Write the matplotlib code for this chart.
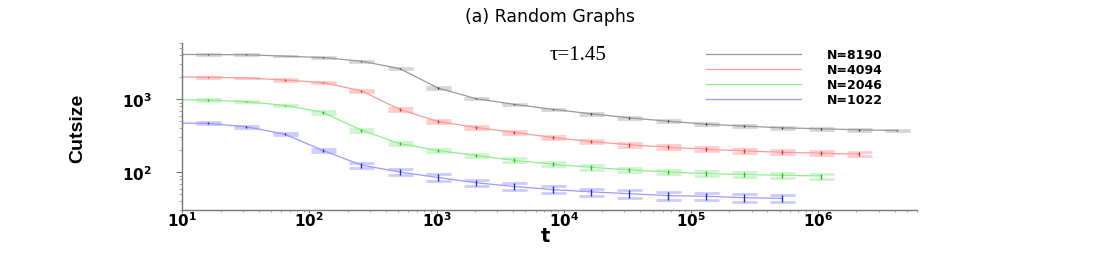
import matplotlib
matplotlib.use("Agg")
import matplotlib.pyplot as plt
import numpy as np
from matplotlib.ticker import LogLocator, FuncFormatter, NullFormatter

# time steps (powers of two), t=8 lies left of the axis and is clipped
t_all = [8, 16, 32, 64, 128, 256, 512, 1024, 2048, 4096, 8192, 16384, 32768,
         65536, 131072, 262144, 524288, 1048576, 2097152, 4194304]

cut_8190 = [4120, 4100, 4080, 3900, 3730, 3330, 2640, 1430, 1020, 853, 729, 634,
            558, 502, 457, 430, 407, 395, 382, 374]
cut_4094 = [2030, 2010, 1960, 1840, 1690, 1310, 728, 498, 412, 352, 300, 264,
            238, 221, 207, 196, 188, 183, 177]
cut_2046 = [985, 978, 927, 827, 662, 378, 248, 199, 170, 146, 129, 117,
            108, 101, 96, 93, 91, 89]
cut_1022 = [475, 468, 420, 333, 199, 126, 101, 85, 72, 64, 58, 54,
            51, 48, 47, 45, 44]

# relative error bars
err_8190 = [0.01, 0.01, 0.01, 0.01, 0.01, 0.015, 0.02, 0.02, 0.02, 0.02, 0.02,
            0.025, 0.025, 0.03, 0.03, 0.03, 0.03, 0.03, 0.03, 0.03]
err_4094 = [0.015, 0.015, 0.015, 0.02, 0.025, 0.03, 0.04, 0.04, 0.04, 0.045,
            0.05, 0.05, 0.055, 0.06, 0.06, 0.06, 0.06, 0.06, 0.06]
err_2046 = [0.02, 0.02, 0.02, 0.025, 0.04, 0.05, 0.05, 0.05, 0.06, 0.06, 0.065,
            0.07, 0.07, 0.075, 0.08, 0.08, 0.08, 0.08]
err_1022 = [0.03, 0.03, 0.035, 0.04, 0.06, 0.08, 0.09, 0.1, 0.1, 0.11, 0.11,
            0.11, 0.12, 0.12, 0.12, 0.12, 0.12]

labels = ["N=8190", "N=4094", "N=2046", "N=1022"]
series = [cut_8190, cut_4094, cut_2046, cut_1022]
errors = [err_8190, err_4094, err_2046, err_1022]

line_colors = ["#9a9a9a", "#ff9a9a", "#90ee90", "#9a9aff"]
cap_colors = ["#d6d6d6", "#ffcccc", "#ccf5cc", "#ccccff"]
bar_colors = ["#333333", "#ee2222", "#22bb22", "#2222ee"]

fig = plt.figure(figsize=(11, 2.55), dpi=100)
ax = fig.add_axes([0.1657, 0.1706, 0.6679, 0.6588])

handles = []
for vals, rel, lc, cc, bc in zip(series, errors, line_colors, cap_colors, bar_colors):
    x = np.array(t_all[:len(vals)], dtype=float)
    y = np.array(vals, dtype=float)
    e = y * np.array(rel)
    line, caps, bars = ax.errorbar(x, y, yerr=e, fmt='-', color=lc, lw=0.9,
                                   ecolor=bc, elinewidth=1, capsize=9, capthick=2)
    for c in caps:
        c.set_markeredgecolor(cc)
        c.set_zorder(1.5)
    bars[0].set_zorder(2.5)
    handles.append(line)

ax.set_xscale('log')
ax.set_yscale('log')
ax.set_xlim(10, 6.0e6)
ax.set_ylim(30, 6000)

fmt = FuncFormatter(lambda v, p: r'$\mathbf{10^{%d}}$' % int(round(np.log10(v))))
for axis in (ax.xaxis, ax.yaxis):
    axis.set_major_locator(LogLocator(base=10))
    axis.set_minor_locator(LogLocator(base=10, subs=np.arange(2, 10)))
    axis.set_major_formatter(fmt)
    axis.set_minor_formatter(NullFormatter())

for s in ('top', 'right'):
    ax.spines[s].set_visible(False)
for s in ('left', 'bottom'):
    ax.spines[s].set_color('#777777')
    ax.spines[s].set_linewidth(1)

ax.tick_params(which='major', direction='out', length=4, width=0.8, color='#777777',
               labelsize=11)
ax.tick_params(which='minor', direction='out', length=2, width=0.6, color='#999999')
ax.tick_params(axis='y', which='major', pad=18)
ax.tick_params(axis='x', which='major', length=2, pad=-2)
ax.tick_params(axis='x', which='minor', length=1.5)

ax.set_xlabel('t', fontsize=14, fontweight='bold')
ax.xaxis.set_label_coords(0.4937, -0.146)
ax.xaxis.label.set_verticalalignment('center')

ax.set_ylabel('Cutsize', fontsize=14, fontweight='bold',
              family=['Liberation Sans Narrow', 'Liberation Sans', 'DejaVu Sans'])
ax.yaxis.set_label_coords(-0.142, 0.497)
ax.yaxis.label.set_verticalalignment('center')

fig.text(0.5, 1 - 17 / 255, '(a) Random Graphs', ha='center', va='center', fontsize=12.5)
fig.text(550 / 1100, 1 - 55 / 255, 'τ=1.45', ha='left', va='center', fontsize=15,
         family=['Liberation Serif', 'DejaVu Serif'])

leg = ax.legend(handles, labels, loc='upper left',
                bbox_to_anchor=(706 / 1100, 1 - 49 / 255), bbox_transform=fig.transFigure,
                frameon=False, prop={'weight': 'bold', 'size': 9},
                handlelength=7.6, handletextpad=2.1, labelspacing=0.16,
                borderpad=0, borderaxespad=0)

fig.savefig('out.png', dpi=100)
